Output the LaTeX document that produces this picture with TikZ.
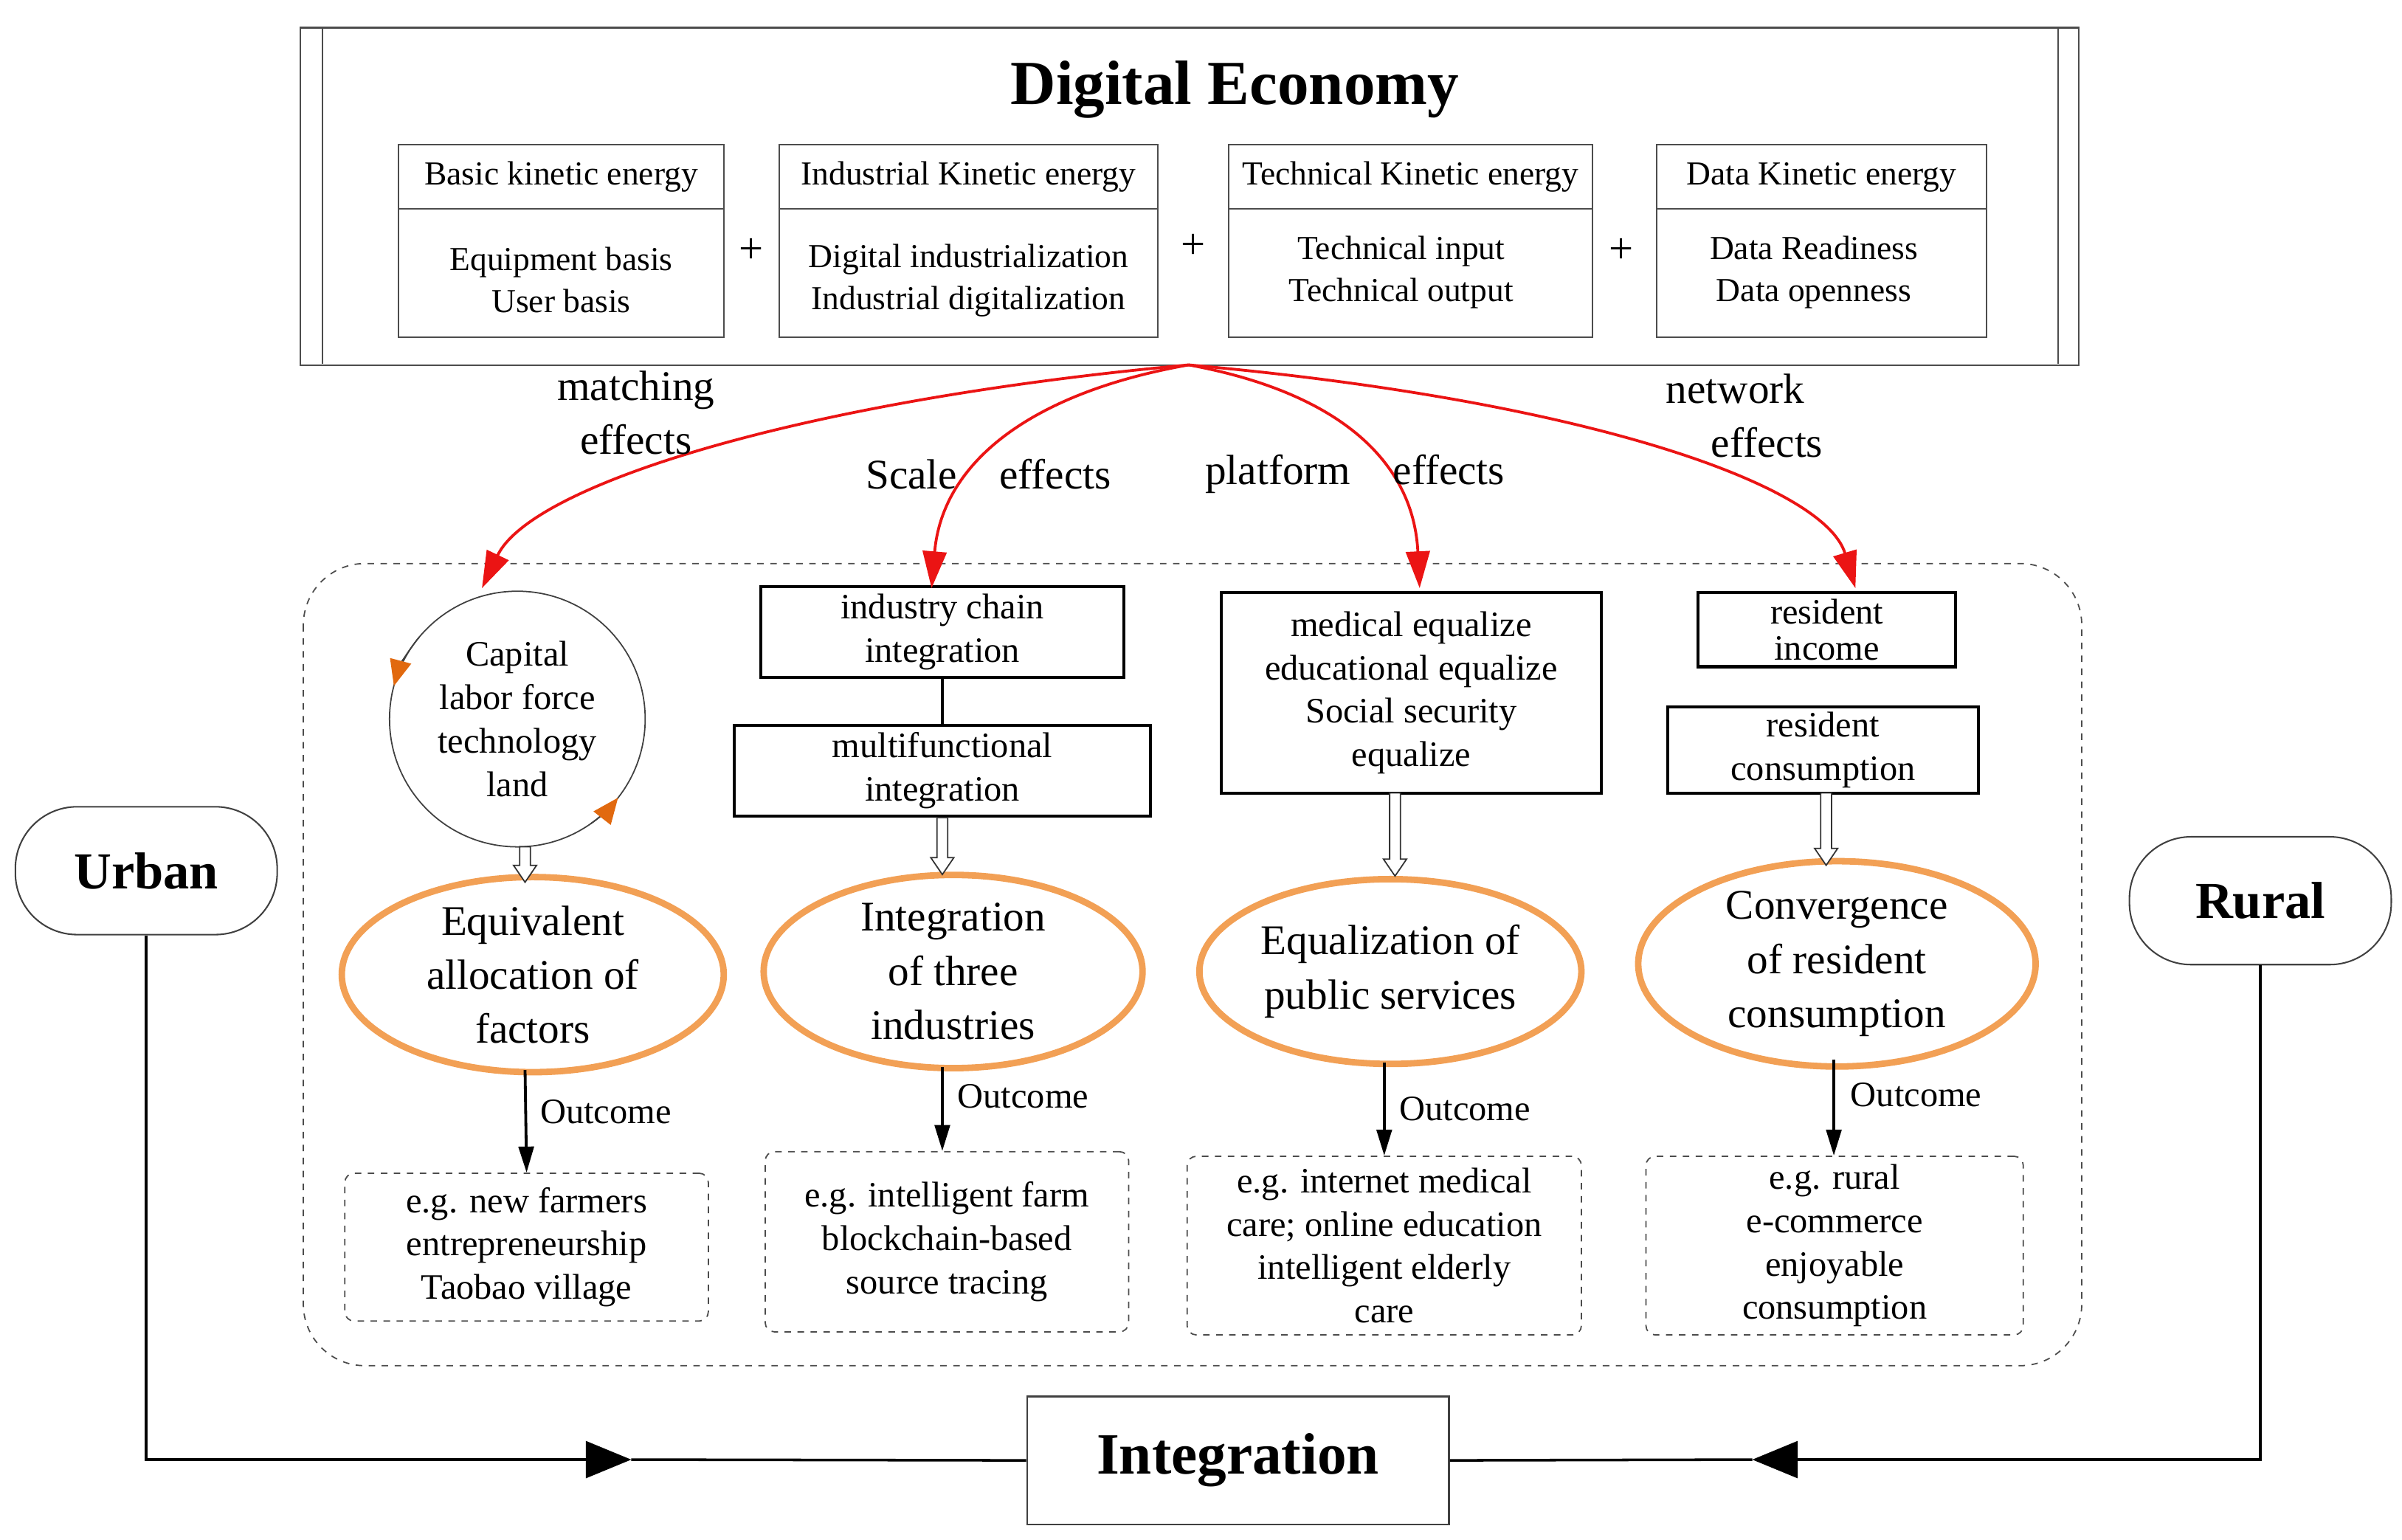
\documentclass[tikz,border=0pt]{standalone}
\usepackage{fontspec}
\setmainfont{Liberation Serif}
\usetikzlibrary{arrows.meta,shapes.geometric,calc}
\definecolor{ored}{RGB}{235,20,20}
\definecolor{orng}{RGB}{242,160,85}
\definecolor{darko}{RGB}{225,105,15}
\begin{document}
\begin{tikzpicture}[x=0.025cm,y=-0.025cm,
  fs/.style={font=\fontsize{15.5}{19.5}\selectfont},
  fm/.style={font=\fontsize{16.5}{20}\selectfont},
  fl/.style={font=\fontsize{19.5}{25}\selectfont},
  thin box/.style={draw=black!70,line width=0.7pt,inner sep=0,rectangle},
  thick box/.style={draw,line width=1.4pt,inner sep=0,rectangle,align=center,fm},
  oell/.style={ellipse,draw=orng,line width=3pt,inner sep=0,align=center,fl},
  dbox/.style={draw=black!70,dashed,line width=0.6pt,rounded corners=1.5mm,inner sep=0,align=center,fm},
  redarr/.style={ored,line width=1.3pt,-{Triangle[length=17pt,width=11pt]}},
  outarr/.style={line width=1.3pt,-{Triangle[length=12pt,width=7pt]}},
  hollow/.style={draw=black!80,fill=white,line width=0.6pt},
  bigarr/.style={line width=1.2pt,-{Triangle[length=21pt,width=17pt]}},
  lbl/.style={align=center,fl,inner sep=0}]
\useasboundingbox (0,0) rectangle (1560,1000);
% top box
\node[thin box,minimum width=288.75mm,minimum height=54.75mm] (T) at (772.5,127.5) {};
\draw[black!70,line width=0.7pt] (T.north west)++(15,0) -- ++(0,219);
\draw[black!70,line width=0.7pt] (T.north east)++(-14,0) -- ++(0,219);
\node[font=\fontsize{29}{32}\selectfont\bfseries] (DE) at (802,58) {Digital Economy};
% sub boxes
\node[thin box,minimum width=52.75mm,minimum height=31.25mm] (B1) at (364.5,156.5) {};
\node[thin box,minimum width=61.5mm,minimum height=31.25mm] (B2) at (629,156.5) {};
\node[thin box,minimum width=59mm,minimum height=31.25mm] (B3) at (916,156.5) {};
\node[thin box,minimum width=53.5mm,minimum height=31.25mm] (B4) at (1183,156.5) {};
\foreach \b in {B1,B2,B3,B4}{\draw[black!70,line width=0.7pt] ($(\b.north west)+(0,42)$) -- ($(\b.north east)+(0,42)$);}
\node[fs] (h1) at (364.5,115) {Basic kinetic energy};
\node[fs] (h2) at (629,115) {Industrial Kinetic energy};
\node[fs] (h3) at (916,115) {Technical Kinetic energy};
\node[fs] (h4) at (1183,115) {Data Kinetic energy};
\node[fs,align=center] (t1) at (364.5,182) {Equipment basis\\User basis};
\node[fs,align=center] (t2) at (629,182) {Digital industrialization\\Industrial digitalization};
\node[fs,align=center] (t3) at (910,177) {Technical input\\Technical output};
\node[fs,align=center] (t4) at (1178,177) {Data Readiness\\Data openness};
\node[font=\fontsize{20}{20}\selectfont] (p1) at (488,163) {+};
\node[font=\fontsize{20}{20}\selectfont] (p2) at (775,160) {+};
\node[font=\fontsize{20}{20}\selectfont] (p3) at (1053,163) {+};
\coordinate (src) at (772,237);
% dashed region
\draw[black!70,dashed,line width=0.6pt,rounded corners=10mm] (197,366) rectangle (1352,887);
% column 1
\node[circle,draw=black!75,line width=0.6pt,minimum size=41.5mm,inner sep=0,align=center,fm] (C) at (336,467) {Capital\\labor force\\technology\\land};
\draw[black!75,line width=0.6pt,-{Triangle[length=12pt,width=10pt,color=darko]}] (C.center) ++(-140:83) arc (-140:-165:83);
\draw[black!75,line width=0.6pt,-{Triangle[length=12pt,width=10pt,color=darko]}] (C.center) ++(55:83) arc (55:38:83);
\node[oell,minimum width=62mm,minimum height=31mm] (E1) at (346,633) {Equivalent\\allocation of\\factors};
\node[dbox,minimum width=59mm,minimum height=24mm] (D1) at (342,810) {e.g. new farmers\\entrepreneurship\\Taobao village};
% column 2
\node[thick box,minimum width=59mm,minimum height=14.75mm] (IC) at (612,410.5) {industry chain\\integration};
\node[thick box,minimum width=67.5mm,minimum height=14.75mm] (MF) at (612,500.5) {multifunctional\\integration};
\draw[line width=1.4pt] (IC.south) -- (MF.north);
\node[oell,minimum width=61.5mm,minimum height=31mm] (E2) at (619,631) {Integration\\of three\\industries};
\node[dbox,minimum width=59mm,minimum height=29.25mm] (D2) at (615,806.5) {e.g. intelligent farm\\blockchain-based\\source tracing};
% column 3
\node[thick box,minimum width=61.75mm,minimum height=32.5mm] (MD) at (916.5,450) {medical equalize\\educational equalize\\Social security\\equalize};
\node[oell,minimum width=62mm,minimum height=30mm] (E3) at (903,631) {Equalization of\\public services};
\node[dbox,minimum width=64mm,minimum height=29mm] (D3) at (899,809) {e.g. internet medical\\care; online education\\intelligent elderly\\care};
% column 4
\node[thick box,minimum width=41.75mm,minimum height=12mm,font=\fontsize{16.5}{17}\selectfont] (RI) at (1186.5,409) {resident\\income};
\node[thick box,minimum width=50.5mm,minimum height=14mm] (RC) at (1184,487) {resident\\consumption};
\node[oell,minimum width=64.5mm,minimum height=31mm] (E4) at (1193,626) {Convergence\\of resident\\consumption};
\node[dbox,minimum width=61.25mm,minimum height=29mm] (D4) at (1191.5,809) {e.g. rural\\e-commerce\\enjoyable\\consumption};
% red arrows
\draw[redarr] (src) .. controls (520,260) and (345,315) .. (313,382);
\draw[redarr] (src) .. controls (670,255) and (612,300) .. (605,382);
\draw[redarr] (src) .. controls (870,255) and (918,300) .. (922,382);
\draw[redarr] (src) .. controls (1030,260) and (1185,315) .. (1205,382);
\node[lbl] (L1) at (413,268) {matching\\effects};
\node[lbl] (L2) at (642,308) {Scale\quad effects};
\node[lbl] (L3) at (880,308) {platform\quad effects};
\node[lbl] (L4) at (1127,270) {network\\\hspace*{1.5em}effects};
% hollow arrows
\draw[hollow] (341,550) -- ++(-3.5,0) -- ++(0,12) -- ++(-4,0) -- ++(7.5,11) -- ++(7.5,-11) -- ++(-4,0) -- ++(0,-12) -- cycle;
\draw[hollow] (MF.south) -- ++(-3.5,0) -- ++(0,26) -- ++(-4,0) -- ++(7.5,11) -- ++(7.5,-11) -- ++(-4,0) -- ++(0,-26) -- cycle;
\draw[hollow] (906,515) -- ++(-3.5,0) -- ++(0,43) -- ++(-4,0) -- ++(7.5,11) -- ++(7.5,-11) -- ++(-4,0) -- ++(0,-43) -- cycle;
\draw[hollow] (1186,515) -- ++(-3.5,0) -- ++(0,36) -- ++(-4,0) -- ++(7.5,11) -- ++(7.5,-11) -- ++(-4,0) -- ++(0,-36) -- cycle;
% outcome arrows
\draw[outarr] (341,695) -- (D1.north);
\draw[outarr] (612,693) -- (D2.north -| 612,693);
\draw[outarr] (899,690) -- (D3.north);
\draw[outarr] (1191,688) -- (D4.north -| 1191,688);
\node[fm,anchor=west] (o1) at (346,722) {Outcome};
\node[fm,anchor=west] (o2) at (617,712) {Outcome};
\node[fm,anchor=west] (o3) at (904,720) {Outcome};
\node[fm,anchor=west] (o4) at (1197,711) {Outcome};
% Urban / Rural / Integration
\node[draw=black!75,line width=0.7pt,rounded corners=10mm,minimum width=42.5mm,minimum height=20.75mm,font=\fontsize{24}{24}\selectfont\bfseries] (U) at (95,565.5) {Urban};
\node[draw=black!75,line width=0.7pt,rounded corners=10mm,minimum width=42.5mm,minimum height=20.75mm,font=\fontsize{24}{24}\selectfont\bfseries] (R) at (1468,585) {Rural};
\node[draw=black!75,line width=0.7pt,minimum width=68.5mm,minimum height=20.75mm,font=\fontsize{27}{27}\selectfont\bfseries] (I) at (804,948.5) {Integration};
\coordinate (m1) at (410,948);
\coordinate (m2) at (1138,948);
\draw[bigarr] (U.south) |- (m1);
\draw[line width=1.2pt] (m1) -- (I.west);
\draw[bigarr] (R.south) |- (m2);
\draw[line width=1.2pt] (m2) -- (I.east);
\end{tikzpicture}
\end{document}
